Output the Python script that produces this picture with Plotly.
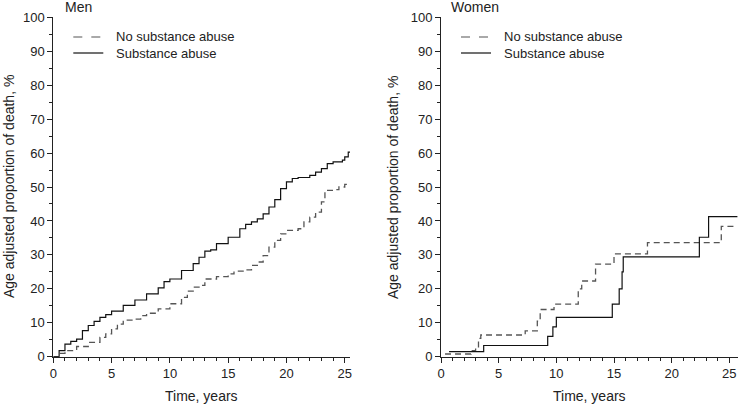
import plotly.graph_objects as go

# ---- Data ----
men_t_abuse = [0, 0.5, 1, 1.5, 2, 2.5, 3, 3.5, 4, 4.5, 5, 6, 7, 8, 9, 9.5, 10, 11, 12, 12.5, 13, 13.5,
               14, 15, 16, 16.5, 17, 17.5, 18, 18.5, 19, 19.5, 20, 20.5, 21, 22, 22.5, 23, 23.5, 24,
               24.8, 25, 25.3]
men_v_abuse = [0, 1.8, 3.7, 4.5, 5.2, 7.7, 9.2, 10.4, 11.6, 12.4, 13.4, 15.1, 16.7, 18.5, 20.3, 22.1,
               22.9, 25.4, 27.4, 29.3, 31.1, 31.5, 33.3, 35.2, 37.7, 39.0, 39.7, 40.6, 42.1, 44.1,
               46.3, 49.5, 51.5, 52.5, 52.8, 53.4, 54.4, 55.4, 56.9, 57.4, 57.9, 58.9, 60.3]

men_t_none = [0, 0.5, 1, 2, 3, 4, 4.5, 5, 5.5, 6, 7, 7.5, 8, 9, 10, 11, 11.5, 12, 12.5, 13, 14, 15,
              15.5, 16.5, 17, 17.5, 18, 18.5, 19, 19.5, 20, 21, 21.5, 22, 22.5, 23, 23.3, 24, 24.5,
              25.0]
men_v_none = [0, 1.0, 1.8, 3.0, 4.2, 5.7, 6.7, 8.2, 9.6, 10.8, 11.1, 12.1, 12.8, 14.1, 15.6, 17.5,
              19.3, 20.5, 21.0, 22.9, 23.6, 24.4, 25.2, 25.6, 26.9, 27.9, 29.8, 32.3, 34.3, 36.2,
              37.2, 37.7, 39.7, 41.1, 42.6, 45.6, 49.0, 49.2, 50.0, 50.8]
men_t_end = 25.45

women_t_abuse = [0.7, 3.7, 9.25, 9.7, 10.0, 14.85, 15.45, 15.7, 15.8, 22.4, 23.2, 25.7]
women_v_abuse = [1.5, 3.3, 6.0, 8.8, 11.6, 15.5, 20.0, 25.0, 29.4, 35.2, 41.3, 41.3]

women_t_none = [0.35, 2.6, 3.0, 3.25, 3.45, 7.3, 8.35, 8.6, 9.8, 11.9, 12.2, 13.4, 15.0, 17.9,
                24.3, 25.7]
women_v_none = [0.8, 1.8, 2.7, 5.4, 6.4, 7.6, 10.5, 13.9, 15.5, 20.0, 22.3, 27.3, 30.3, 33.6,
                38.4, 38.4]

panel_titles = ["Men", "Women"]
series_names = ["No substance abuse", "Substance abuse"]
x_title = "Time, years"
y_title = "Age adjusted proportion of death, %"

# ---- Figure ----
W, H = 738, 406
FONT = "Liberation Sans, Arial, sans-serif"
SOLID = "#111111"
DASH = "#555555"
TXT = "#222"

fig = go.Figure()

panels = [
    ("x", "y", men_t_none + [men_t_end], men_v_none + [men_v_none[-1]],
     men_t_abuse + [men_t_end], men_v_abuse + [men_v_abuse[-1]]),
    ("x2", "y2", women_t_none, women_v_none, women_t_abuse, women_v_abuse),
]
for xa, ya, tn, vn, ta, va in panels:
    fig.add_trace(go.Scatter(x=tn, y=vn, mode="lines",
                             line=dict(color=DASH, width=1.3, dash="6px,4px", shape="hv"),
                             xaxis=xa, yaxis=ya, showlegend=False, hoverinfo="skip"))
    fig.add_trace(go.Scatter(x=ta, y=va, mode="lines",
                             line=dict(color=SOLID, width=1.2, shape="hv"),
                             xaxis=xa, yaxis=ya, showlegend=False, hoverinfo="skip"))

y_bot = (H - 356.7) / H
y_top = (H - 17.3) / H
dom_left = [53.3 / W, 350.0 / W]
dom_right = [441.0 / W, 1.0]

axis_common = dict(showline=True, linecolor=TXT, linewidth=1, showgrid=False, zeroline=False,
                   ticks="outside", ticklen=5, tickcolor=TXT, tickwidth=1, automargin=False,
                   tickfont=dict(family=FONT, size=13, color=TXT))

xcommon = dict(axis_common, tick0=0, dtick=5,
               minor=dict(dtick=1, ticks="outside", ticklen=3, tickcolor=TXT, showgrid=False))
ycommon = dict(axis_common, range=[0, 100], tick0=0, dtick=10,
               minor=dict(dtick=5, ticks="outside", ticklen=3, tickcolor=TXT, showgrid=False))

fig.update_layout(
    width=W, height=H,
    margin=dict(l=0, r=0, t=0, b=0),
    plot_bgcolor="white", paper_bgcolor="white",
    font=dict(family=FONT, color=TXT),
    xaxis=dict(xcommon, domain=dom_left, anchor="y", range=[0, 25.45]),
    yaxis=dict(ycommon, domain=[y_bot, y_top], anchor="x"),
    xaxis2=dict(xcommon, domain=dom_right, anchor="y2", range=[0, 25.75]),
    yaxis2=dict(ycommon, domain=[y_bot, y_top], anchor="x2"),
)

ann = []
shapes = []
for i, (x0, ttl_x, ytitle_x) in enumerate([(53.3, 63, 9), (441.0, 449, 393)]):
    ann.append(dict(text=panel_titles[i], x=ttl_x / W, y=1 - 7 / H, xref="paper", yref="paper",
                    xanchor="left", yanchor="middle", showarrow=False,
                    font=dict(size=14, family=FONT, color=TXT)))
    ann.append(dict(text=y_title, x=ytitle_x / W, y=(H - 187) / H, xref="paper", yref="paper",
                    xanchor="center", yanchor="middle", textangle=-90, showarrow=False,
                    font=dict(size=14, family=FONT, color=TXT)))
    cx = x0 + (201.5 - 53.3)
    ann.append(dict(text=x_title, x=cx / W, y=1 - 396 / H, xref="paper", yref="paper",
                    xanchor="center", yanchor="middle", showarrow=False,
                    font=dict(size=14, family=FONT, color=TXT)))
    lx0 = x0 + 20
    for name, col, dsh, yy in [(series_names[0], DASH, "dash", 37), (series_names[1], SOLID, "solid", 53)]:
        shapes.append(dict(type="line", xref="paper", yref="paper", x0=lx0 / W, x1=(lx0 + 30) / W,
                           y0=1 - yy / H, y1=1 - yy / H, line=dict(color=col, width=1.2, dash=dsh)))
        ann.append(dict(text=name, x=(lx0 + 41) / W, y=1 - yy / H, xref="paper", yref="paper",
                        xanchor="left", yanchor="middle", showarrow=False,
                        font=dict(size=13, family=FONT, color=TXT)))

fig.update_layout(annotations=ann, shapes=shapes)

fig.write_html("out.html", config={"displayModeBar": False, "staticPlot": True},
               post_script="document.body.style.margin='0';document.body.style.overflow='hidden';")
